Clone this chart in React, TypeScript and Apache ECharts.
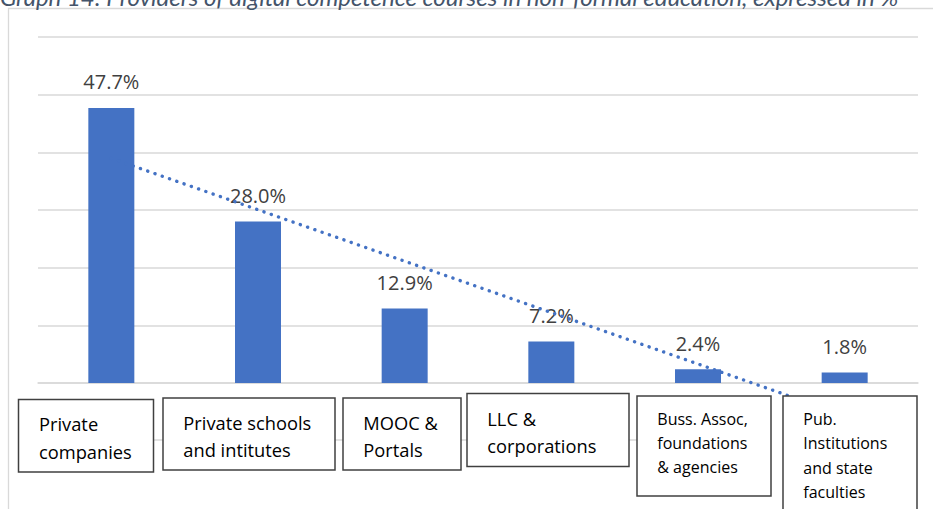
import React, { useEffect, useRef } from "react";
import * as echarts from "echarts";

const titleText =
  "Graph 14: Providers of digital competence courses in non-formal education, expressed in %";

const categories = [
  "Private companies",
  "Private schools and intitutes",
  "MOOC & Portals",
  "LLC & corporations",
  "Buss. Assoc, foundations & agencies",
  "Pub. Institutions and state faculties",
];

const values = [47.7, 28.0, 12.9, 7.2, 2.4, 1.8];

const boxLines = [
  ["Private", "companies"],
  ["Private schools", "and intitutes"],
  ["MOOC &", "Portals"],
  ["LLC &", "corporations"],
  ["Buss. Assoc,", "foundations", "& agencies"],
  ["Pub.", "Institutions", "and state", "faculties"],
];

// layout of the label boxes (pixels)
const boxLayout = [
  { x: 18.5, y: 399.5, w: 135, h: 72.5, tx: 39, ty: 424, lh: 27.7, fs: 18.3 },
  { x: 163, y: 398, w: 172, h: 72, tx: 183.3, ty: 422.7, lh: 27.3, fs: 18.3 },
  { x: 343, y: 398, w: 118, h: 72, tx: 363.3, ty: 422.7, lh: 27.3, fs: 18.3 },
  { x: 467, y: 393.5, w: 162, h: 73, tx: 487.3, ty: 418.7, lh: 27.3, fs: 18.3 },
  { x: 637, y: 396, w: 134, h: 100, tx: 657.3, ty: 419.3, lh: 24, fs: 16 },
  { x: 783, y: 396, w: 134, h: 130, tx: 803.3, ty: 419.3, lh: 24.2, fs: 16 },
];

// linear (least squares) trend line over the category positions, as Excel draws it
function linearTrend(ys: number[]): number[] {
  const n = ys.length;
  const xs = ys.map((_, i) => i + 1);
  const mx = xs.reduce((a, b) => a + b, 0) / n;
  const my = ys.reduce((a, b) => a + b, 0) / n;
  let sxy = 0;
  let sxx = 0;
  for (let i = 0; i < n; i++) {
    sxy += (xs[i] - mx) * (ys[i] - my);
    sxx += (xs[i] - mx) * (xs[i] - mx);
  }
  const slope = sxy / sxx;
  return xs.map((x) => +(my + slope * (x - mx)).toFixed(3));
}

const TITLE_FONT = "Lato, 'Open Sans', sans-serif";
const FONT = "'Open Sans', Lato, sans-serif";

export default function App() {
  const ref = useRef<HTMLDivElement>(null);

  useEffect(() => {
    document.body.style.margin = "0";
    if (!ref.current) return;
    const chart = echarts.init(ref.current, undefined, { renderer: "svg" });

    const graphics: any[] = [
      {
        type: "rect",
        z: 0,
        silent: true,
        shape: { x: 8.5, y: 8.5, width: 1000, height: 600 },
        style: { fill: "none", stroke: "#d9d9d9", lineWidth: 1.3 },
      },
      {
        type: "line",
        z: 0,
        silent: true,
        shape: { x1: 140, y1: 440, x2: 637, y2: 440 },
        style: { stroke: "#d9d9d9", lineWidth: 1.3 },
      },
      {
        type: "text",
        z: 100,
        x: 0,
        y: -3.5,
        style: {
          text: titleText,
          fontFamily: TITLE_FONT,
          fontStyle: "italic",
          fontSize: 24,
          fill: "#44546A",
          verticalAlign: "middle",
          align: "left",
        },
      },
    ];

    boxLayout.forEach((b, i) => {
      graphics.push({
        type: "rect",
        z: 100,
        shape: { x: b.x, y: b.y, width: b.w, height: b.h },
        style: { fill: "#ffffff", stroke: "#404040", lineWidth: 1.5 },
      });
      graphics.push({
        type: "text",
        z: 101,
        x: b.tx,
        y: b.ty - b.lh / 2,
        style: {
          text: boxLines[i].join("\n"),
          fontFamily: FONT,
          fontSize: b.fs,
          lineHeight: b.lh,
          fill: "#000000",
          align: "left",
          verticalAlign: "top",
        },
      });
    });

    chart.setOption({
      animation: false,
      backgroundColor: "#ffffff",
      grid: { left: 38, right: 15, top: 37, bottom: 126, containLabel: false },
      xAxis: {
        type: "category",
        data: categories,
        axisTick: { show: false },
        axisLabel: { show: false },
        axisLine: { lineStyle: { color: "#d9d9d9", width: 1.5 } },
      },
      yAxis: {
        type: "value",
        min: 0,
        max: 60,
        interval: 10,
        axisLabel: { show: false },
        axisLine: { show: false },
        axisTick: { show: false },
        splitLine: { lineStyle: { color: "#d9d9d9", width: 1.5 } },
      },
      series: [
        {
          type: "bar",
          name: "Share",
          data: values,
          barWidth: 46,
          itemStyle: { color: "#4472C4" },
          label: {
            show: true,
            position: "top",
            distance: 16,
            formatter: (p: any) => Number(p.value).toFixed(1) + "%",
            fontFamily: FONT,
            fontSize: 20,
            color: "#404040",
          },
          z: 2,
        },
        {
          type: "line",
          name: "Linear trend",
          data: linearTrend(values),
          symbol: "none",
          clip: false,
          lineStyle: {
            color: "#4472C4",
            width: 3.4,
            type: [0.1, 7.6],
            cap: "round",
          },
          z: 5,
        },
      ],
      graphic: graphics,
    });

    return () => chart.dispose();
  }, []);

  return <div ref={ref} style={{ width: 933, height: 509 }} />;
}
